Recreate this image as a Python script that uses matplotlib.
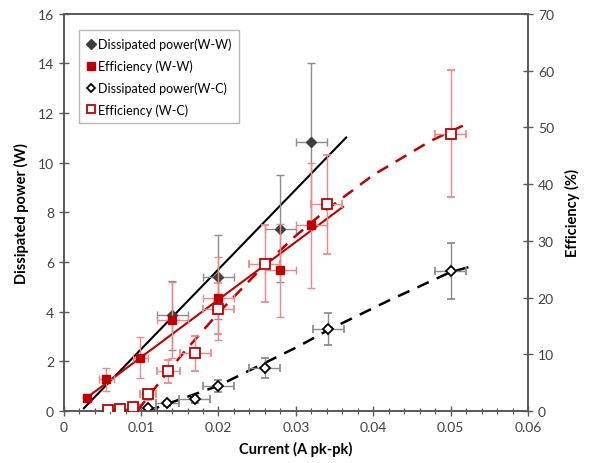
import matplotlib
matplotlib.use('Agg')
import matplotlib.pyplot as plt
from matplotlib.ticker import MultipleLocator

plt.rcParams['font.family'] = ['Lato', 'DejaVu Sans']

# Dissipated power (W-W), left axis [W]
dw_x = [0.014, 0.020, 0.028, 0.032]
dw_y = [3.85, 5.4, 7.35, 10.85]
dw_yerr = [1.4, 1.7, 2.15, 3.15]
dw_xerr = [0.002, 0.002, 0.002, 0.002]

# Efficiency (W-W), right axis [%]
ew_x = [0.003, 0.0055, 0.0099, 0.014, 0.020, 0.028, 0.032]
ew_y = [2.3, 5.6, 9.4, 16.1, 19.9, 24.8, 32.7]
ew_yerr = [0.6, 2.0, 3.6, 6.7, 7.3, 8.2, 11.0]
ew_xerr = [0.0005, 0.001, 0.001, 0.002, 0.002, 0.002, 0.002]

# Dissipated power (W-C), left axis [W]
dc_x = [0.0057, 0.0073, 0.0089, 0.0109, 0.0134, 0.0169, 0.020, 0.026, 0.0342, 0.050]
dc_y = [0.02, 0.05, 0.05, 0.12, 0.31, 0.47, 1.0, 1.75, 3.3, 5.65]
dc_yerr = [0.03, 0.03, 0.03, 0.05, 0.1, 0.15, 0.25, 0.4, 0.66, 1.13]
dc_xerr = [0.0005, 0.0005, 0.0005, 0.001, 0.0015, 0.002, 0.002, 0.002, 0.002, 0.002]

# Efficiency (W-C), right axis [%]
ec_x = [0.0057, 0.0073, 0.0089, 0.0109, 0.0135, 0.017, 0.020, 0.026, 0.034, 0.050]
ec_y = [0.1, 0.4, 0.7, 2.95, 7.0, 10.2, 18.0, 26.0, 36.4, 48.9]
ec_yerr = [0.2, 0.3, 0.4, 1.0, 2.0, 3.1, 4.5, 6.8, 8.8, 11.2]
ec_xerr = [0.0005, 0.0005, 0.0005, 0.001, 0.0015, 0.002, 0.002, 0.002, 0.002, 0.002]

# trend lines
tr_dw_x = [0.0026, 0.0365]
tr_dw_y = [0.11, 11.02]
tr_ew_x = [0.0027, 0.0361]
tr_ew_y = [2.07, 36.0]
tr_dc_x = [0.0108, 0.020, 0.0303, 0.0344, 0.042, 0.050, 0.053]
tr_dc_y = [0.0, 1.02, 2.6, 3.3, 4.45, 5.6, 5.85]
tr_ec_x = [0.0095, 0.0125, 0.0155, 0.020, 0.026, 0.030, 0.034, 0.040, 0.0474, 0.0523]
tr_ec_y = [0.0, 5.3, 10.3, 17.3, 25.8, 30.9, 35.5, 41.6, 47.6, 50.75]

red = '#C00000'
red_err = '#EE8888'
dark = '#3F3F3F'
grey_err = '#8C8C8C'

fig = plt.figure(figsize=(5.9, 4.64), dpi=100)
ax = fig.add_axes([0.108, 0.112, 0.787, 0.856])
ax2 = ax.twinx()

# left axis: dissipated power
ax.errorbar(dw_x, dw_y, yerr=dw_yerr, xerr=dw_xerr, fmt='D', ms=5.5, color=dark,
            mfc=dark, mec=dark, ecolor=grey_err, elinewidth=1, capsize=3,
            label='Dissipated power(W-W)', zorder=3)
ax.errorbar(dc_x, dc_y, yerr=dc_yerr, xerr=dc_xerr, fmt='D', ms=5, color='black',
            mfc='white', mec='black', mew=1.3, ecolor=grey_err, elinewidth=1,
            capsize=3, label='Dissipated power(W-C)', zorder=3)
ax.plot(tr_dw_x, tr_dw_y, color='black', lw=1.5, zorder=2)
ax.plot(tr_dc_x, tr_dc_y, color='black', lw=1.8, ls=(0, (5, 3.5)), zorder=2)

# right axis: efficiency
ax2.errorbar(ew_x, ew_y, yerr=ew_yerr, xerr=ew_xerr, fmt='s', ms=6, color=red,
             mfc=red, mec=red, ecolor=red_err, elinewidth=1, capsize=3,
             label='Efficiency (W-W)', zorder=3)
ax2.errorbar(ec_x, ec_y, yerr=ec_yerr, xerr=ec_xerr, fmt='s', ms=6.5, color=red,
             mfc='white', mec=red, mew=1.3, ecolor=red_err, elinewidth=1,
             capsize=3, label='Efficiency (W-C)', zorder=3)
ax2.plot(tr_ew_x, tr_ew_y, color=red, lw=1.5, zorder=2)
ax2.plot(tr_ec_x, tr_ec_y, color=red, lw=1.8, ls=(0, (5, 3.5)), zorder=2)

ax.set_xlim(0, 0.06)
ax.set_ylim(0, 16)
ax2.set_ylim(0, 70)
ax.xaxis.set_minor_locator(MultipleLocator(0.002))
ax.yaxis.set_major_locator(MultipleLocator(2))
ax2.yaxis.set_major_locator(MultipleLocator(10))
ax.set_xticks([0, 0.01, 0.02, 0.03, 0.04, 0.05, 0.06])
ax.set_xticklabels(['0', '0.01', '0.02', '0.03', '0.04', '0.05', '0.06'])

for a in (ax, ax2):
    for s in a.spines.values():
        s.set_color('#595959')
        s.set_linewidth(1.2)
    a.tick_params(which='major', direction='inout', length=7, width=1,
                  color='#595959', labelsize=10, labelcolor='#404040')
    a.tick_params(which='minor', direction='inout', length=4, width=0.8,
                  color='#595959')

ax.set_xlabel('Current (A pk-pk)', fontsize=10.5, fontweight='bold', labelpad=6)
ax.set_ylabel('Dissipated power (W)', fontsize=10.5, fontweight='bold', labelpad=6)
ax2.set_ylabel('Efficiency (%)', fontsize=10.5, fontweight='bold', labelpad=8)

h1, l1 = ax.get_legend_handles_labels()
h2, l2 = ax2.get_legend_handles_labels()
handles = [h1[0][0], h2[0][0], h1[1][0], h2[1][0]]
labels = [l1[0], l2[0], l1[1], l2[1]]
leg = ax2.legend(handles, labels, loc='upper left', bbox_to_anchor=(0.02, 0.975),
                 fontsize=9, frameon=True, fancybox=False, handlelength=0.6,
                 handletextpad=0.3, labelspacing=0.75, borderpad=0.6,
                 markerscale=0.85)
leg.get_frame().set_edgecolor('#A6A6A6')
leg.get_frame().set_linewidth(1)

fig.savefig('out.png', dpi=100)
